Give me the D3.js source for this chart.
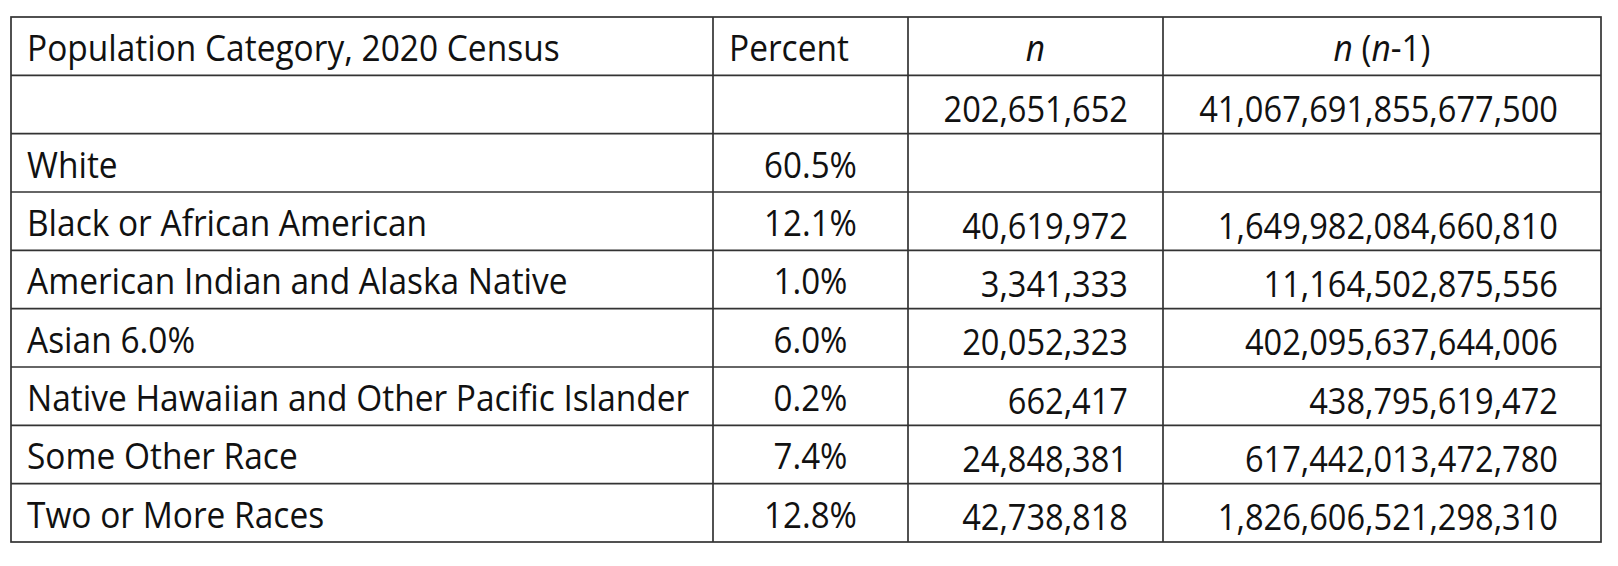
<!DOCTYPE html>
<html>
<head>
<meta charset="utf-8">
<script src="https://cdn.jsdelivr.net/npm/d3@7"></script>
<style>
  body { margin: 0; background: #fff; }
  svg text { font-family: "Open Sans", "Noto Sans", sans-serif; fill: #111; }
</style>
</head>
<body>
<div id="table"></div>
<script>
// table data
var categories = [
    "",
    "White",
    "Black or African American",
    "American Indian and Alaska Native",
    "Asian 6.0%",
    "Native Hawaiian and Other Pacific Islander",
    "Some Other Race",
    "Two or More Races"
];
var percents = [null, 60.5, 12.1, 1.0, 6.0, 0.2, 7.4, 12.8];
var nValues = [202651652, null, 40619972, 3341333, 20052323, 662417, 24848381, 42738818];
var nn1Values = [
    41067691855677500n, null, 1649982084660810n, 11164502875556n,
    402095637644006n, 438795619472n, 617442013472780n, 1826606521298310n
];

var svgWidth = 1618;
var svgHeight = 566;

// outer box of the table
var box = { left: 11, right: 1601, top: 17, bottom: 542 };
// column edges, left to right
var colEdges = [11, 713, 908, 1163, 1601];
var fontSize = 36;

var svg = d3.select("#table")
    .append("svg")
    .attr("width", svgWidth)
    .attr("height", svgHeight);

// one band per row: header + data rows
var rowIds = d3.range(categories.length + 1);
var yScale = d3.scaleBand()
    .domain(rowIds)
    .range([box.top, box.bottom]);

var fmtPct = function(v) { return v == null ? "" : d3.format(".1f")(v) + "%"; };
var fmtN = function(v) { return v == null ? "" : d3.format(",")(v); };
var fmtBig = function(v) { return v == null ? "" : v.toLocaleString("en-US"); };

// grid lines
var grid = svg.append("g")
    .attr("stroke", "#333")
    .attr("stroke-width", 1.7)
    .attr("fill", "none");

grid.append("rect")
    .attr("x", box.left)
    .attr("y", box.top)
    .attr("width", box.right - box.left)
    .attr("height", box.bottom - box.top);

grid.selectAll("line.h")
    .data(rowIds.slice(1))
    .enter()
    .append("line")
    .attr("class", "h")
    .attr("x1", box.left)
    .attr("x2", box.right)
    .attr("y1", function(d) { return yScale(d); })
    .attr("y2", function(d) { return yScale(d); });

grid.selectAll("line.v")
    .data(colEdges.slice(1, -1))
    .enter()
    .append("line")
    .attr("class", "v")
    .attr("x1", function(d) { return d; })
    .attr("x2", function(d) { return d; })
    .attr("y1", box.top)
    .attr("y2", box.bottom);

// helper to place horizontally squeezed text
function addText(g, x, y, anchor, sx) {
    return g.append("text")
        .attr("transform", "translate(" + x + "," + y + ") scale(" + sx + ",1)")
        .attr("text-anchor", anchor)
        .style("font-size", fontSize + "px");
}

var cells = svg.append("g");

// header row
var hy = yScale(0) + 44;
addText(cells, colEdges[0] + 16, hy, "start", 0.93).text("Population Category, 2020 Census");
addText(cells, colEdges[1] + 16, hy, "start", 0.93).text("Percent");
addText(cells, (colEdges[2] + colEdges[3]) / 2, hy, "middle", 0.93)
    .style("font-style", "italic").text("n");
var hdr = addText(cells, (colEdges[3] + colEdges[4]) / 2, hy, "middle", 0.93);
hdr.append("tspan").style("font-style", "italic").text("n");
hdr.append("tspan").text(" (");
hdr.append("tspan").style("font-style", "italic").text("n");
hdr.append("tspan").text("-1)");

// data rows
categories.forEach(function(cat, i) {
    var top = yScale(i + 1);
    addText(cells, colEdges[0] + 16, top + 44, "start", 0.93).text(cat);
    addText(cells, (colEdges[1] + colEdges[2]) / 2, top + 44, "middle", 0.92).text(fmtPct(percents[i]));
    addText(cells, colEdges[3] - 35, top + 46.5, "end", 0.905).text(fmtN(nValues[i]));
    addText(cells, colEdges[4] - 43, top + 46.5, "end", 0.905).text(fmtBig(nn1Values[i]));
});
</script>
</body>
</html>
